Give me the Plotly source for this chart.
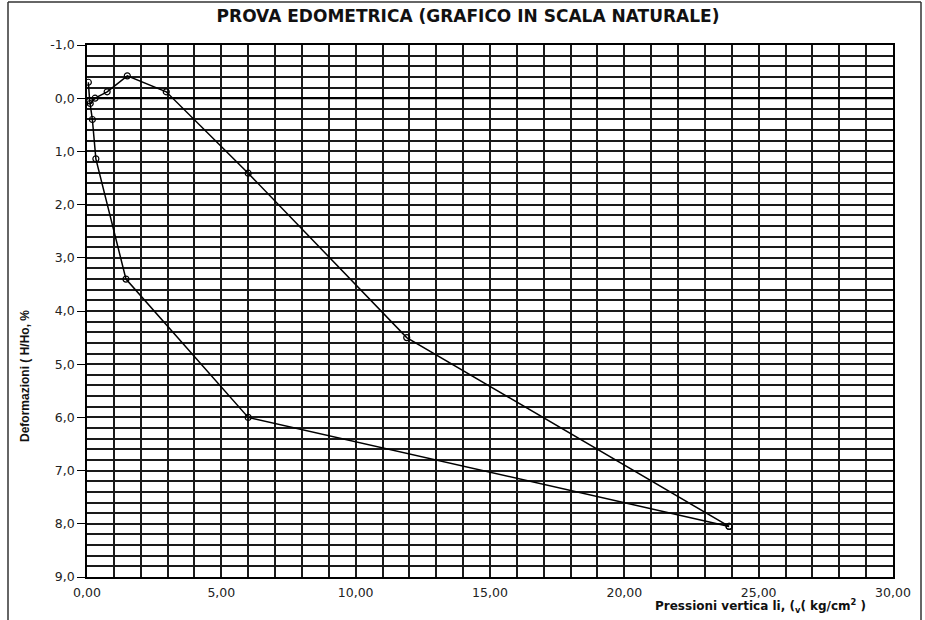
import plotly.graph_objects as go

# Loading branch (carico)
load_p = [0.05, 0.10, 0.20, 0.33, 1.45, 6.00, 23.90]
load_d = [-0.30, 0.05, 0.40, 1.14, 3.40, 6.00, 8.05]

# Unloading branch (scarico)
unload_p = [23.90, 11.90, 6.00, 2.95, 1.50, 0.75, 0.30, 0.12]
unload_d = [8.05, 4.50, 1.41, -0.12, -0.42, -0.12, 0.00, 0.10]

x_tickvals = [0, 5, 10, 15, 20, 25, 30]
x_ticktext = ["0,00", "5,00", "10,00", "15,00", "20,00", "25,00", "30,00"]
y_tickvals = [-1, 0, 1, 2, 3, 4, 5, 6, 7, 8, 9]
y_ticktext = ["-1,0", "0,0", "1,0", "2,0", "3,0", "4,0", "5,0", "6,0", "7,0", "8,0", "9,0"]

FONT = "Liberation Sans"
WIDE = "DejaVu Sans"
GRID = "#1a1a1a"

fig = go.Figure()
for xs, ys in [(load_p, load_d), (unload_p, unload_d)]:
    fig.add_trace(go.Scatter(
        x=xs, y=ys, mode="lines+markers",
        line=dict(color="black", width=1.5),
        marker=dict(symbol="circle-open", size=6, color="black", line=dict(width=1.2)),
        showlegend=False, hoverinfo="x+y"))

W, H = 925, 620
L, R, T, B = 87, 32, 45, 43
pw, ph = W - L - R, H - T - B

def px_x(p):
    return (p - L) / pw

def px_y(p):
    return (H - B - p) / ph

fig.update_layout(
    width=W, height=H,
    margin=dict(l=L, r=R, t=T, b=B, autoexpand=False),
    paper_bgcolor="white", plot_bgcolor="white",
    font=dict(family=WIDE, size=11, color="#222"),
    title=dict(text="<b>PROVA EDOMETRICA (GRAFICO IN SCALA NATURALE)</b>",
               x=(468) / W, xanchor="center", y=1 - 16 / H, yanchor="middle",
               font=dict(family=WIDE, size=17, color="#111")),
    xaxis=dict(range=[0, 30], automargin=False,
               tickmode="array", tickvals=x_tickvals, ticktext=x_ticktext,
               showgrid=True, gridcolor=GRID, gridwidth=1.6,
               minor=dict(dtick=1, tick0=0, showgrid=True, gridcolor=GRID,
                          gridwidth=1.6, ticks=""),
               showline=True, linecolor="black", linewidth=1.6, mirror=True,
               zeroline=False, ticks="", ticklabelstandoff=3,
               tickfont=dict(family=WIDE, size=12.5, color="#222")),
    yaxis=dict(range=[9, -1], automargin=False,
               tickmode="array", tickvals=y_tickvals, ticktext=y_ticktext,
               showgrid=True, gridcolor=GRID, gridwidth=1.6,
               minor=dict(dtick=0.2, tick0=0, showgrid=True, gridcolor=GRID,
                          gridwidth=1.6, ticks=""),
               showline=True, linecolor="black", linewidth=1.6, mirror=True,
               zeroline=False, ticks="outside", ticklen=8, tickcolor="black",
               tickwidth=1.2,
               tickfont=dict(family=WIDE, size=12.5, color="#222")),
    annotations=[
        dict(text="<b>Pressioni vertica li, (<sub>v</sub>( kg/cm<sup>2</sup> )</b>",
             xref="paper", yref="paper", x=px_x(868), y=px_y(606),
             xanchor="right", yanchor="middle", showarrow=False,
             font=dict(family=WIDE, size=12, color="#111")),
        dict(text="<b>Deformazioni ( H/Ho, %</b>",
             xref="paper", yref="paper", x=px_x(25), y=px_y(376),
             xanchor="center", yanchor="middle", showarrow=False, textangle=-90,
             font=dict(family=FONT, size=12, color="#111")),
    ],
)

# zero line (thicker)
fig.add_shape(type="line", xref="paper", yref="y", x0=0, x1=1, y0=0, y1=0,
              line=dict(color="black", width=2.2), layer="above")

# outer frame of the picture
frame = dict(color="#333", width=1.5)
fig.add_shape(type="line", xref="paper", yref="paper",
              x0=px_x(8), x1=px_x(8), y0=px_y(2), y1=px_y(640), line=frame)
fig.add_shape(type="line", xref="paper", yref="paper",
              x0=px_x(8), x1=px_x(921), y0=px_y(2), y1=px_y(2), line=frame)
fig.add_shape(type="line", xref="paper", yref="paper",
              x0=px_x(921), x1=px_x(921), y0=px_y(2), y1=px_y(640), line=frame)

fig.write_html("out.html", config={"displayModeBar": False},
               post_script="document.body.style.margin='0px';")
